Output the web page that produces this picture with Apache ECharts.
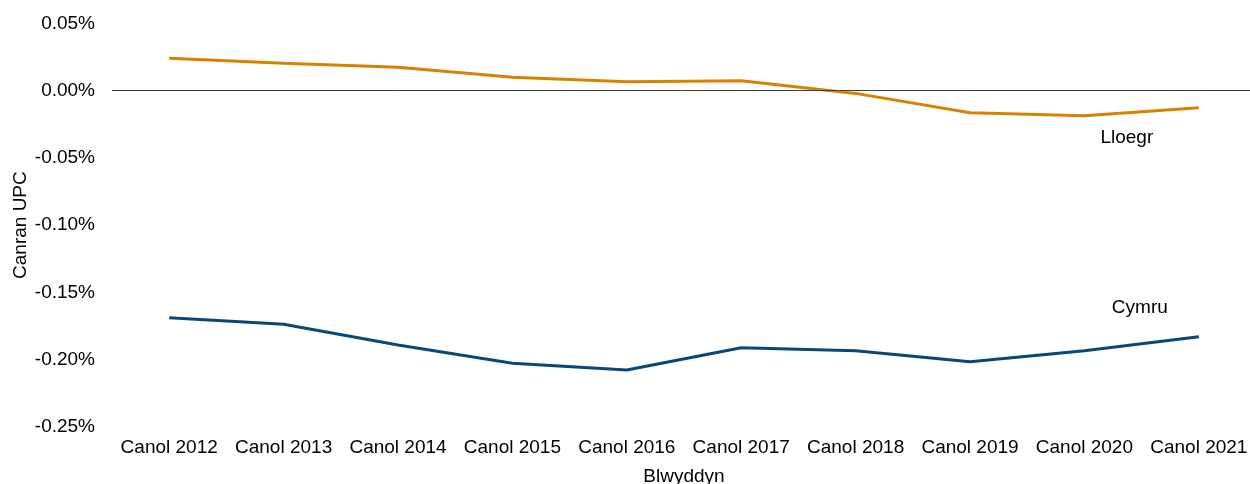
<!DOCTYPE html>
<html>
<head>
<meta charset="utf-8">
<script src="https://cdn.jsdelivr.net/npm/echarts@6/dist/echarts.min.js"></script>
<style>
  html, body { margin: 0; padding: 0; background: #fff; }
  #chart { width: 1250px; height: 484px; }
</style>
</head>
<body>
<div id="chart"></div>
<script>
// categories and values (percent)
var years = ['Canol 2012', 'Canol 2013', 'Canol 2014', 'Canol 2015', 'Canol 2016',
             'Canol 2017', 'Canol 2018', 'Canol 2019', 'Canol 2020', 'Canol 2021'];
var lloegr = [0.0241, 0.0204, 0.0175, 0.0100, 0.0067, 0.0074, -0.0020, -0.0164, -0.0186, -0.0126];
var cymru = [-0.1689, -0.1738, -0.1892, -0.2028, -0.2078, -0.1912, -0.1935, -0.2016, -0.1935, -0.1830];
var yTicks = { min: -0.25, max: 0.05, step: 0.05 };

var font = 'Liberation Sans, Arial, sans-serif';
var fs = 19;

// label only on last point
function withEndLabel(vals, name, offset) {
    return vals.map(function (v, i) {
        if (i !== vals.length - 1) return v;
        return {
            value: v,
            label: {
                show: true, formatter: name, offset: offset, position: 'inside',
                color: '#000', fontSize: fs, fontFamily: font
            }
        };
    });
}

var chart = echarts.init(document.getElementById('chart'));
var option = {
    animation: false,
    grid: { left: 112, top: 23.5, width: 1144, height: 403.2, outerBoundsMode: 'none', containLabel: false },
    xAxis: {
        type: 'category',
        data: years,
        boundaryGap: true,
        axisLine: { show: false },
        axisTick: { show: false },
        axisLabel: { color: '#000', fontSize: fs, fontFamily: font, margin: 12, interval: 0 },
        name: 'Blwyddyn',
        nameLocation: 'middle',
        nameGap: 41,
        nameMoveOverlap: false,
        nameTextStyle: { color: '#000', fontSize: fs, fontFamily: font }
    },
    yAxis: {
        type: 'value',
        min: yTicks.min, max: yTicks.max, interval: yTicks.step,
        axisLine: { show: false },
        axisTick: { show: false },
        splitLine: { show: false },
        axisLabel: {
            color: '#000', fontSize: fs, fontFamily: font, margin: 17,
            formatter: function (v) { return v.toFixed(2) + '%'; }
        },
        name: 'Canran UPC',
        nameLocation: 'middle',
        nameRotate: 90,
        nameGap: 82,
        nameMoveOverlap: false,
        nameTextStyle: { color: '#000', fontSize: fs, fontFamily: font }
    },
    series: [
        {
            name: 'Lloegr',
            type: 'line',
            data: withEndLabel(lloegr, 'Lloegr', [-72, 30]),
            symbol: 'circle',
            symbolSize: 0,
            lineStyle: { color: '#DA8200', width: 3 },
            itemStyle: { color: '#DA8200' },
            markLine: {
                silent: true,
                symbol: 'none',
                label: { show: false },
                lineStyle: { color: '#404040', width: 1, type: 'solid' },
                data: [{ yAxis: 0 }]
            }
        },
        {
            name: 'Cymru',
            type: 'line',
            data: withEndLabel(cymru, 'Cymru', [-59, -29]),
            symbol: 'circle',
            symbolSize: 0,
            lineStyle: { color: '#0B4675', width: 3 },
            itemStyle: { color: '#0B4675' }
        }
    ]
};
chart.setOption(option);
</script>
</body>
</html>
